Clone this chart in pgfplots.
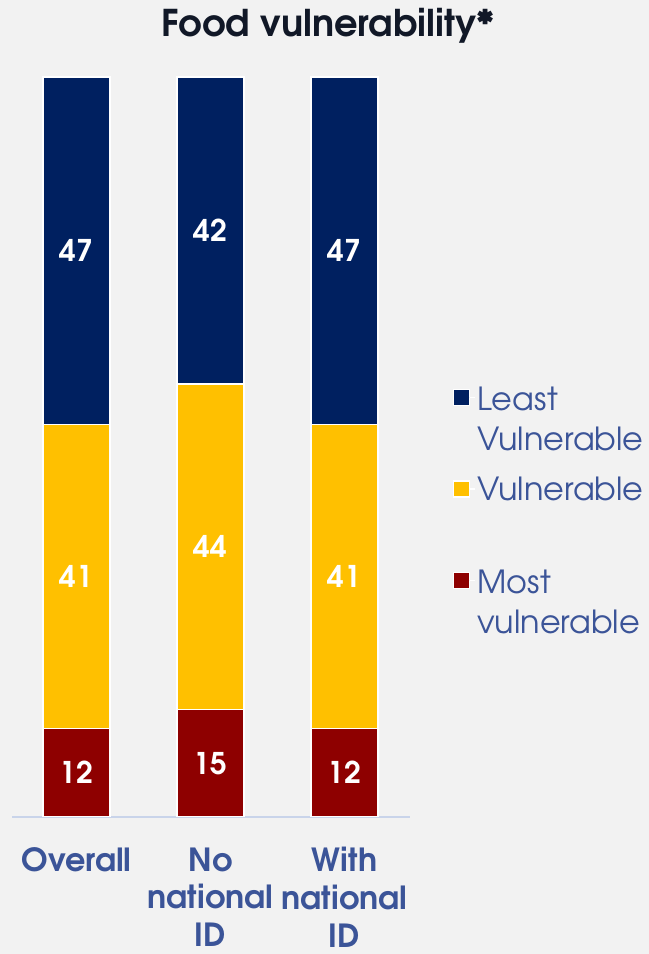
\documentclass[border=0pt]{standalone}
\usepackage{pgfplots}
\pgfplotsset{compat=1.18}
\usepackage{pgfplotstable}
\usepackage{fontspec}
\setmainfont{TeX Gyre Adventor}
\definecolor{navy}{HTML}{002060}
\definecolor{gold}{HTML}{FFC000}
\definecolor{maroon}{HTML}{8E0000}
\definecolor{txtblue}{HTML}{3B5498}
\definecolor{titlec}{HTML}{111827}
\definecolor{bgc}{HTML}{F2F2F2}
\definecolor{axc}{HTML}{C9D4EA}
\newcommand{\lgtwo}[2]{\raisebox{0pt}[\height][0pt]{\begin{tabular}[t]{@{}l@{}}#1\\#2\end{tabular}}}

\pgfplotstableread{
x y
0 12
1 14.5
2 12
}\most
\pgfplotstableread{
x y
0 41
1 44
2 41
}\vuln
\pgfplotstableread{
x y
0 47
1 41.5
2 47
}\least
\pgfplotstableread{
x y label
0 6 12
1 7.25 15
2 6 12
0 32.5 41
1 36.5 44
2 32.5 41
0 76.5 47
1 79.25 42
2 76.5 47
}\labels

\begin{document}
\begin{tikzpicture}[x=1bp,y=1bp]
\fill[bgc] (0,0) rectangle (649,954);
\useasboundingbox (0,0) rectangle (649,954);
\begin{axis}[
  at={(12bp,137bp)}, anchor=south west,
  width=398bp, height=740bp, scale only axis,
  xmin=-0.481, xmax=2.489, ymin=0, ymax=100,
  ybar stacked, bar width=67bp,
  axis x line*=bottom, axis y line=none,
  x axis line style={draw=axc, line width=1.5bp, -},
  xtick={0,1,2}, xticklabels={Overall,No\\national\\ID,With\\national\\ID},
  major tick length=0pt,
  xticklabel style={align=center, font=\bfseries\fontsize{32}{38}\selectfont, text=txtblue, yshift=-27bp},
  ytick=\empty,
  title={Food vulnerability*},
  title style={at={(0.794,1)}, anchor=base, yshift=35bp, font=\bfseries\fontsize{37}{42}\selectfont, text=titlec},
  reverse legend,
  legend style={at={(1.100,0.592)}, anchor=north west, draw=none, fill=none,
    font=\fontsize{32}{40}\selectfont, text=txtblue, row sep=60bp},
  legend cell align=left,
  legend image code/.code={\fill[#1] (0bp,-8bp) rectangle (16bp,8bp); \path (16bp,0bp) -- (21bp,0bp);},
]
\addplot[fill=maroon, draw=white, line width=1.2bp] table[x=x,y=y]{\most};
\addlegendentry{\lgtwo{Most}{vulnerable}}
\addplot[fill=gold, draw=white, line width=1.2bp] table[x=x,y=y]{\vuln};
\addlegendentry{Vulnerable}
\addplot[fill=navy, draw=white, line width=1.2bp] table[x=x,y=y]{\least};
\addlegendentry{\lgtwo{Least}{Vulnerable}}
\end{axis}
\begin{axis}[
  at={(12bp,137bp)}, anchor=south west,
  width=398bp, height=740bp, scale only axis,
  xmin=-0.481, xmax=2.489, ymin=0, ymax=100,
  hide axis,
]
\addplot[draw=none, mark=none, nodes near coords, point meta=explicit symbolic,
  nodes near coords align={anchor=center},
  every node near coord/.append style={anchor=center, text=white, font=\bfseries\fontsize{30}{36}\selectfont}]
  table[x=x,y=y,meta=label]{\labels};
\end{axis}
\end{tikzpicture}
\end{document}
